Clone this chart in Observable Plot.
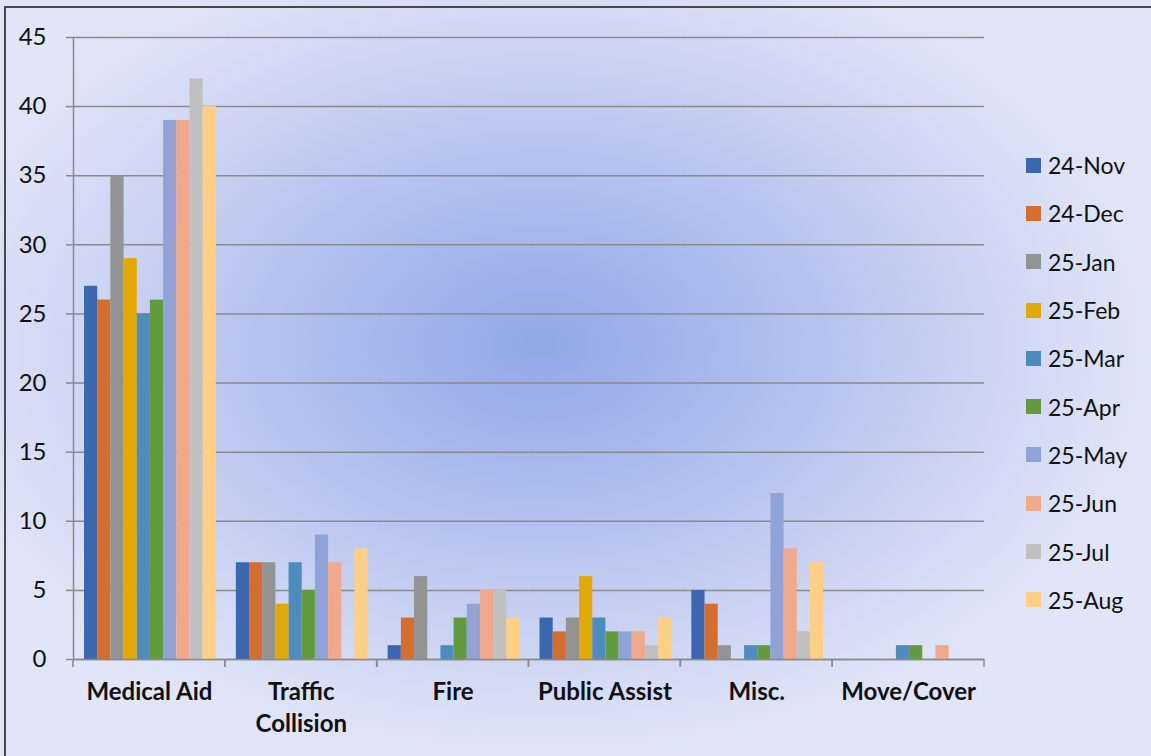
<!DOCTYPE html>
<html>
<head>
<meta charset="utf-8">
<script src="https://cdn.jsdelivr.net/npm/d3@7"></script>
<script src="https://cdn.jsdelivr.net/npm/@observablehq/plot@0.6"></script>
<style>
html, body { margin: 0; padding: 0; }
#wrap {
  position: relative; width: 1151px; height: 756px; overflow: hidden;
  background: radial-gradient(ellipse 640px 430px at 540px 345px, #93a7e8 0%, #aebdee 35%, #c8d1f2 65%, #dce2f6 90%, #e0e5f7 100%);
  font-family: Lato, "Open Sans", sans-serif;
}
#border { position: absolute; left: 4px; top: 6px; width: 1300px; height: 900px; border-left: 2px solid #484848; border-top: 2px solid #484848; }
#chart { position: absolute; left: 0; top: 0; }
#chart svg [aria-label="y-axis tick label"] { font-size: 24px; }
#legend { position: absolute; left: 1026px; top: 141px; }
.row { display: flex; align-items: center; height: 48.3px; font-size: 23px; color: #111; }
.sw { width: 15px; height: 15px; margin-right: 7px; }
</style>
</head>
<body>
<div id="wrap"><div id="border"></div><div id="chart"></div><div id="legend"></div></div>
<script>
const categories = ["Medical Aid", "Traffic Collision", "Fire", "Public Assist", "Misc.", "Move/Cover"];
const series = ["24-Nov", "24-Dec", "25-Jan", "25-Feb", "25-Mar", "25-Apr", "25-May", "25-Jun", "25-Jul", "25-Aug"];
const colors = ["#3b66b0", "#d56e2c", "#939393", "#e2aa00", "#4e8bbf", "#629b3e", "#8fa3d6", "#f0a98b", "#c0c0c0", "#ffcf86"];
const yTicks = [0, 5, 10, 15, 20, 25, 30, 35, 40, 45];

const nov24 = [27, 7, 1, 3, 5, 0];
const dec24 = [26, 7, 3, 2, 4, 0];
const jan25 = [35, 7, 6, 3, 1, 0];
const feb25 = [29, 4, 0, 6, 0, 0];
const mar25 = [25, 7, 1, 3, 1, 1];
const apr25 = [26, 5, 3, 2, 1, 1];
const may25 = [39, 9, 4, 2, 12, 0];
const jun25 = [39, 7, 5, 2, 8, 1];
const jul25 = [42, 0, 5, 1, 2, 0];
const aug25 = [40, 8, 3, 3, 7, 0];
const seriesValues = [nov24, dec24, jan25, feb25, mar25, apr25, may25, jun25, jul25, aug25];

const data = categories.flatMap((c, i) => series.map((s, j) => ({category: c, series: s, value: seriesValues[j][i]})));

const gridColor = "#8a8a8a";

// category boundary ticks below the x axis (drawn in each facet)
const boundaryTicks = (index, scales, values, dimensions) => {
  const {marginLeft, marginRight, marginBottom, width, height} = dimensions;
  const y0 = height - marginBottom;
  const g = d3.create("svg:g").attr("stroke", gridColor).attr("stroke-width", 1.5);
  for (const x of [marginLeft, width - marginRight]) {
    g.append("line").attr("x1", x).attr("x2", x).attr("y1", y0).attr("y2", y0 + 8);
  }
  return g.node();
};

const chart = Plot.plot({
  width: 1000,
  height: 756,
  marginLeft: 73,
  marginRight: 16,
  marginTop: 37,
  marginBottom: 97,
  style: {background: "transparent", fontFamily: "Lato, 'Open Sans', sans-serif", color: "#111", overflow: "visible"},
  fx: {domain: categories, padding: 0, round: false, label: null, axis: null},
  x: {domain: series, axis: null, paddingInner: 0, paddingOuter: 0.76, align: 0.55, round: false},
  y: {domain: [0, 45], label: null, axis: null},
  color: {domain: series, range: colors},
  marks: [
    Plot.gridY(yTicks, {stroke: gridColor, strokeOpacity: 1, strokeWidth: 1.5}),
    Plot.barY(data, {fx: "category", x: "series", y: "value", fill: "series"}),
    Plot.ruleY([0], {stroke: gridColor, strokeWidth: 1.5}),
    Plot.frame({anchor: "left", facetAnchor: "left", stroke: gridColor, strokeWidth: 1.5}),
    boundaryTicks,
    Plot.axisY(yTicks, {tickSize: 7, tickPadding: 20, fontSize: 24, stroke: gridColor, strokeWidth: 1.5, strokeOpacity: 1, label: null, fill: "#111"}),
    Plot.axisFx({anchor: "bottom", tickSize: 0, tickPadding: 18, fontSize: 24, fontWeight: "bold", lineHeight: 1.33, label: null, fill: "#111",
      tickFormat: d => d.replace(" Collision", "\nCollision")})
  ]
});
document.getElementById("chart").appendChild(chart);

const legend = document.getElementById("legend");
series.forEach((s, i) => {
  const row = document.createElement("div");
  row.className = "row";
  const sw = document.createElement("div");
  sw.className = "sw";
  sw.style.background = colors[i];
  const t = document.createElement("span");
  t.textContent = s;
  row.appendChild(sw);
  row.appendChild(t);
  legend.appendChild(row);
});
</script>
</body>
</html>
